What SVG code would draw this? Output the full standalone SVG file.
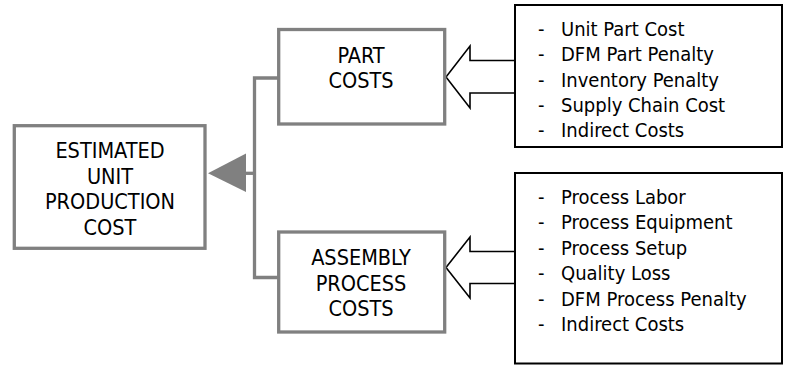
<svg xmlns="http://www.w3.org/2000/svg" width="788" height="366" viewBox="0 0 788 366">
<style>
.gbox{fill:#fff;stroke:#808080;stroke-width:3.3}
.bbox{fill:#fff;stroke:#000;stroke-width:2}
.gl{fill:none;stroke:#808080;stroke-width:3.3}
.bar{fill:#fff;stroke:#000;stroke-width:1.6;stroke-linejoin:miter}
.t{font-family:"DejaVu Sans Condensed","DejaVu Sans",sans-serif;font-size:21.5px;fill:#000;text-anchor:middle}
.l{font-family:"DejaVu Sans Condensed","DejaVu Sans",sans-serif;font-size:20px;fill:#000}
</style>
<rect width="788" height="366" fill="#fff"/>
<g id="connectors">
<path class="gl" d="M278.7,78 H254.5 V277.5 H278.7"/>
<path class="gl" d="M254.5,173.3 H240"/>
<polygon points="208,173.3 246,153.5 246,192" fill="#808080"/>
<polygon class="bar" points="515,60.5 470,60.5 470,46 446,77 470,108 470,93 515,93"/>
<polygon class="bar" points="515,251.5 470,251.5 470,237 446,267.5 470,298 470,283.5 515,283.5"/>
</g>
<g id="estimated">
<rect class="gbox" x="14.3" y="125.7" width="190.7" height="122.6"/>
<text class="t" x="110" y="158">ESTIMATED</text>
<text class="t" x="110" y="183.5">UNIT</text>
<text class="t" x="110" y="209">PRODUCTION</text>
<text class="t" x="110" y="234.5">COST</text>
</g>
<g id="part">
<rect class="gbox" x="278.7" y="29.5" width="166" height="94.5"/>
<text class="t" x="361" y="62.5">PART</text>
<text class="t" x="361" y="87.5">COSTS</text>
</g>
<g id="assembly">
<rect class="gbox" x="278.7" y="232" width="166" height="100"/>
<text class="t" x="361" y="265">ASSEMBLY</text>
<text class="t" x="361" y="290.5">PROCESS</text>
<text class="t" x="361" y="316">COSTS</text>
</g>
<g id="part-list">
<rect class="bbox" x="515" y="5" width="267" height="142"/>
<text class="l" y="35.5"><tspan x="538">-</tspan><tspan x="561">Unit Part Cost</tspan></text>
<text class="l" y="61"><tspan x="538">-</tspan><tspan x="561">DFM Part Penalty</tspan></text>
<text class="l" y="86.5"><tspan x="538">-</tspan><tspan x="561">Inventory Penalty</tspan></text>
<text class="l" y="112"><tspan x="538">-</tspan><tspan x="561">Supply Chain Cost</tspan></text>
<text class="l" y="137"><tspan x="538">-</tspan><tspan x="561">Indirect Costs</tspan></text>
</g>
<g id="assembly-list">
<rect class="bbox" x="515" y="173" width="267" height="190.5"/>
<text class="l" y="203.5"><tspan x="538">-</tspan><tspan x="561">Process Labor</tspan></text>
<text class="l" y="229"><tspan x="538">-</tspan><tspan x="561">Process Equipment</tspan></text>
<text class="l" y="254.5"><tspan x="538">-</tspan><tspan x="561">Process Setup</tspan></text>
<text class="l" y="280"><tspan x="538">-</tspan><tspan x="561">Quality Loss</tspan></text>
<text class="l" y="305.5"><tspan x="538">-</tspan><tspan x="561">DFM Process Penalty</tspan></text>
<text class="l" y="331"><tspan x="538">-</tspan><tspan x="561">Indirect Costs</tspan></text>
</g>
</svg>
